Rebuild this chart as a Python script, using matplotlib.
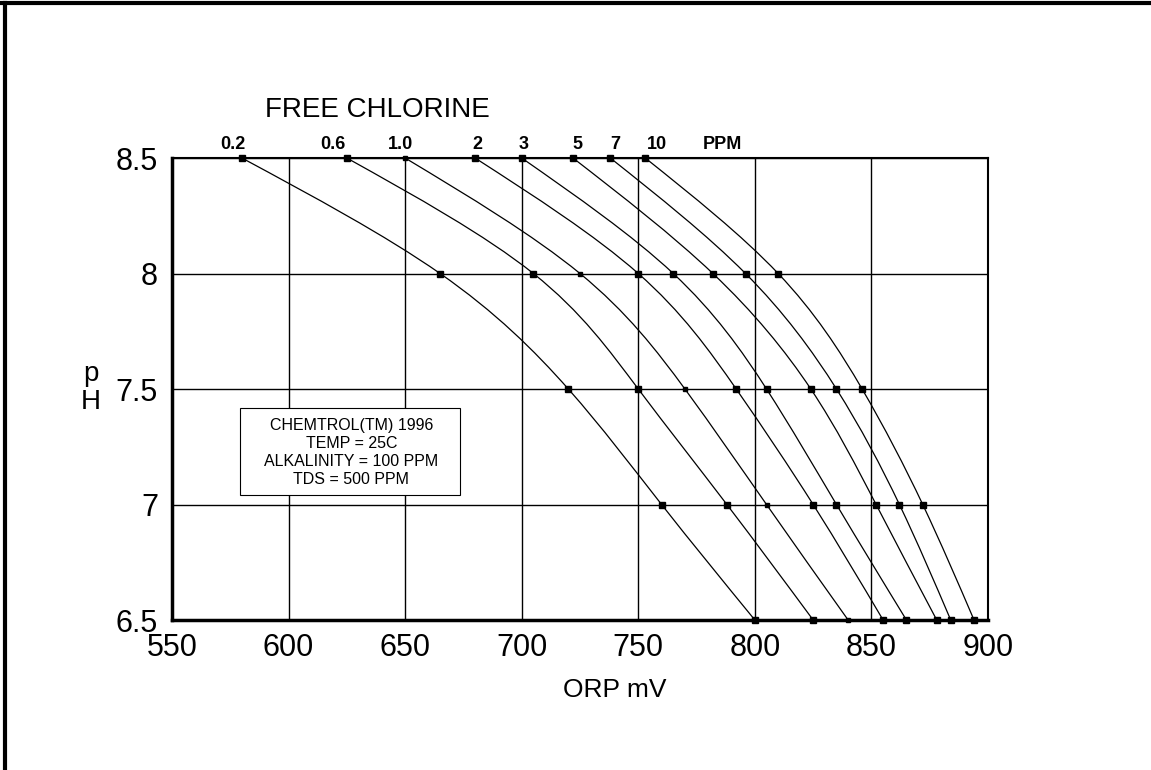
import matplotlib
matplotlib.use("Agg")
import matplotlib.pyplot as plt
from matplotlib.path import Path
from matplotlib.patches import PathPatch, Rectangle
from matplotlib.lines import Line2D
import numpy as np

plt.rcParams['font.family'] = ['Liberation Sans', 'DejaVu Sans']

# pH levels where the points sit
ph_levels = [8.5, 8.0, 7.5, 7.0, 6.5]

# ORP (mV) for each free chlorine level, read at each pH level
chlorine_labels = ['0.2', '0.6', '1.0', '2', '3', '5', '7', '10']
orp_02 = [580, 665, 720, 760, 800]
orp_06 = [625, 705, 750, 788, 825]
orp_10 = [650, 725, 770, 805, 840]
orp_2 = [680, 750, 792, 825, 855]
orp_3 = [700, 765, 805, 835, 865]
orp_5 = [722, 782, 824, 852, 878]
orp_7 = [738, 796, 835, 862, 884]
orp_10ppm = [753, 810, 846, 872, 894]
all_curves = [orp_02, orp_06, orp_10, orp_2, orp_3, orp_5, orp_7, orp_10ppm]

# where the ppm labels sit above the chart
label_x = [576, 619, 648, 681, 701, 724, 740, 758]

x_ticks = [550, 600, 650, 700, 750, 800, 850, 900]
y_ticks = [6.5, 7, 7.5, 8, 8.5]
y_tick_labels = ['6.5', '7', '7.5', '8', '8.5']

note_lines = ['CHEMTROL(TM) 1996', 'TEMP = 25C',
              'ALKALINITY = 100 PPM', 'TDS = 500 PPM']


def smooth_path(xs, ys):
    # natural cubic spline x(y) through the points, drawn as bezier segments
    ys = np.asarray(ys, dtype=float)[::-1]
    xs = np.asarray(xs, dtype=float)[::-1]
    n = len(ys)
    h = np.diff(ys)
    A = np.zeros((n, n))
    b = np.zeros(n)
    A[0, 0] = 1
    A[-1, -1] = 1
    for i in range(1, n - 1):
        A[i, i - 1] = h[i - 1]
        A[i, i] = 2 * (h[i - 1] + h[i])
        A[i, i + 1] = h[i]
        b[i] = 6 * ((xs[i + 1] - xs[i]) / h[i] - (xs[i] - xs[i - 1]) / h[i - 1])
    M = np.linalg.solve(A, b)
    d = np.zeros(n)
    for i in range(n - 1):
        d[i] = (xs[i + 1] - xs[i]) / h[i] - h[i] * (2 * M[i] + M[i + 1]) / 6
    d[-1] = (xs[-1] - xs[-2]) / h[-1] + h[-1] * (M[-2] + 2 * M[-1]) / 6
    verts = [(xs[0], ys[0])]
    codes = [Path.MOVETO]
    for i in range(n - 1):
        verts.append((xs[i] + d[i] * h[i] / 3, ys[i] + h[i] / 3))
        verts.append((xs[i + 1] - d[i + 1] * h[i] / 3, ys[i + 1] - h[i] / 3))
        verts.append((xs[i + 1], ys[i + 1]))
        codes += [Path.CURVE4] * 3
    return Path(verts, codes)


fig = plt.figure(figsize=(11.51, 7.70), dpi=100)
ax = fig.add_axes([0.1494, 0.1948, 0.7090, 0.6000])

ax.set_xlim(550, 900)
ax.set_ylim(6.5, 8.5)
ax.set_xticks(x_ticks)
ax.set_yticks(y_ticks)
ax.set_yticklabels(y_tick_labels)
ax.tick_params(length=0, labelsize=22)
ax.tick_params(axis='x', pad=9)
ax.tick_params(axis='y', pad=10)
ax.grid(True, color='black', linewidth=1.0)
ax.set_axisbelow(True)

for side in ['left', 'bottom']:
    ax.spines[side].set_linewidth(2.5)
for side in ['top', 'right']:
    ax.spines[side].set_linewidth(1.5)

for i, orp in enumerate(all_curves):
    ax.add_patch(PathPatch(smooth_path(orp, ph_levels), facecolor='none',
                           edgecolor='black', linewidth=0.9, zorder=3))
    if chlorine_labels[i] == '1.0':
        ax.plot(orp, ph_levels, 's', color='black', markersize=2.5, zorder=4,
                clip_on=False)
    else:
        ax.plot(orp, ph_levels, 's', color='black', markersize=5, zorder=4,
                clip_on=False)
    ax.text(label_x[i], 8.56, chlorine_labels[i], ha='center', va='center',
            fontsize=13, fontweight='bold')

ax.text(786, 8.56, 'PPM', ha='center', va='center', fontsize=13,
        fontweight='bold')
ax.text(638, 8.708, 'FREE CHLORINE', ha='center', va='center', fontsize=20)

# note box
ax.add_patch(Rectangle((579, 7.041), 94.5, 0.377, facecolor='white',
                       edgecolor='black', linewidth=0.8, zorder=5))
ax.text(627, 7.227, '\n'.join(note_lines), ha='center', va='center',
        fontsize=11.5, linespacing=1.25, zorder=6)

fig.text(0.534, 0.104, 'ORP mV', ha='center', va='center', fontsize=19)
fig.text(0.079, 0.496, 'p\nH', ha='center', va='center', fontsize=20,
         linespacing=1.1)

# outer frame (top and left edge only)
fig.add_artist(Line2D([0, 1], [0.9955, 0.9955], color='black', linewidth=3,
                      transform=fig.transFigure))
fig.add_artist(Line2D([0.004, 0.004], [0, 0.9955], color='black', linewidth=3,
                      transform=fig.transFigure))

fig.savefig('out.png', dpi=100, facecolor='white')
